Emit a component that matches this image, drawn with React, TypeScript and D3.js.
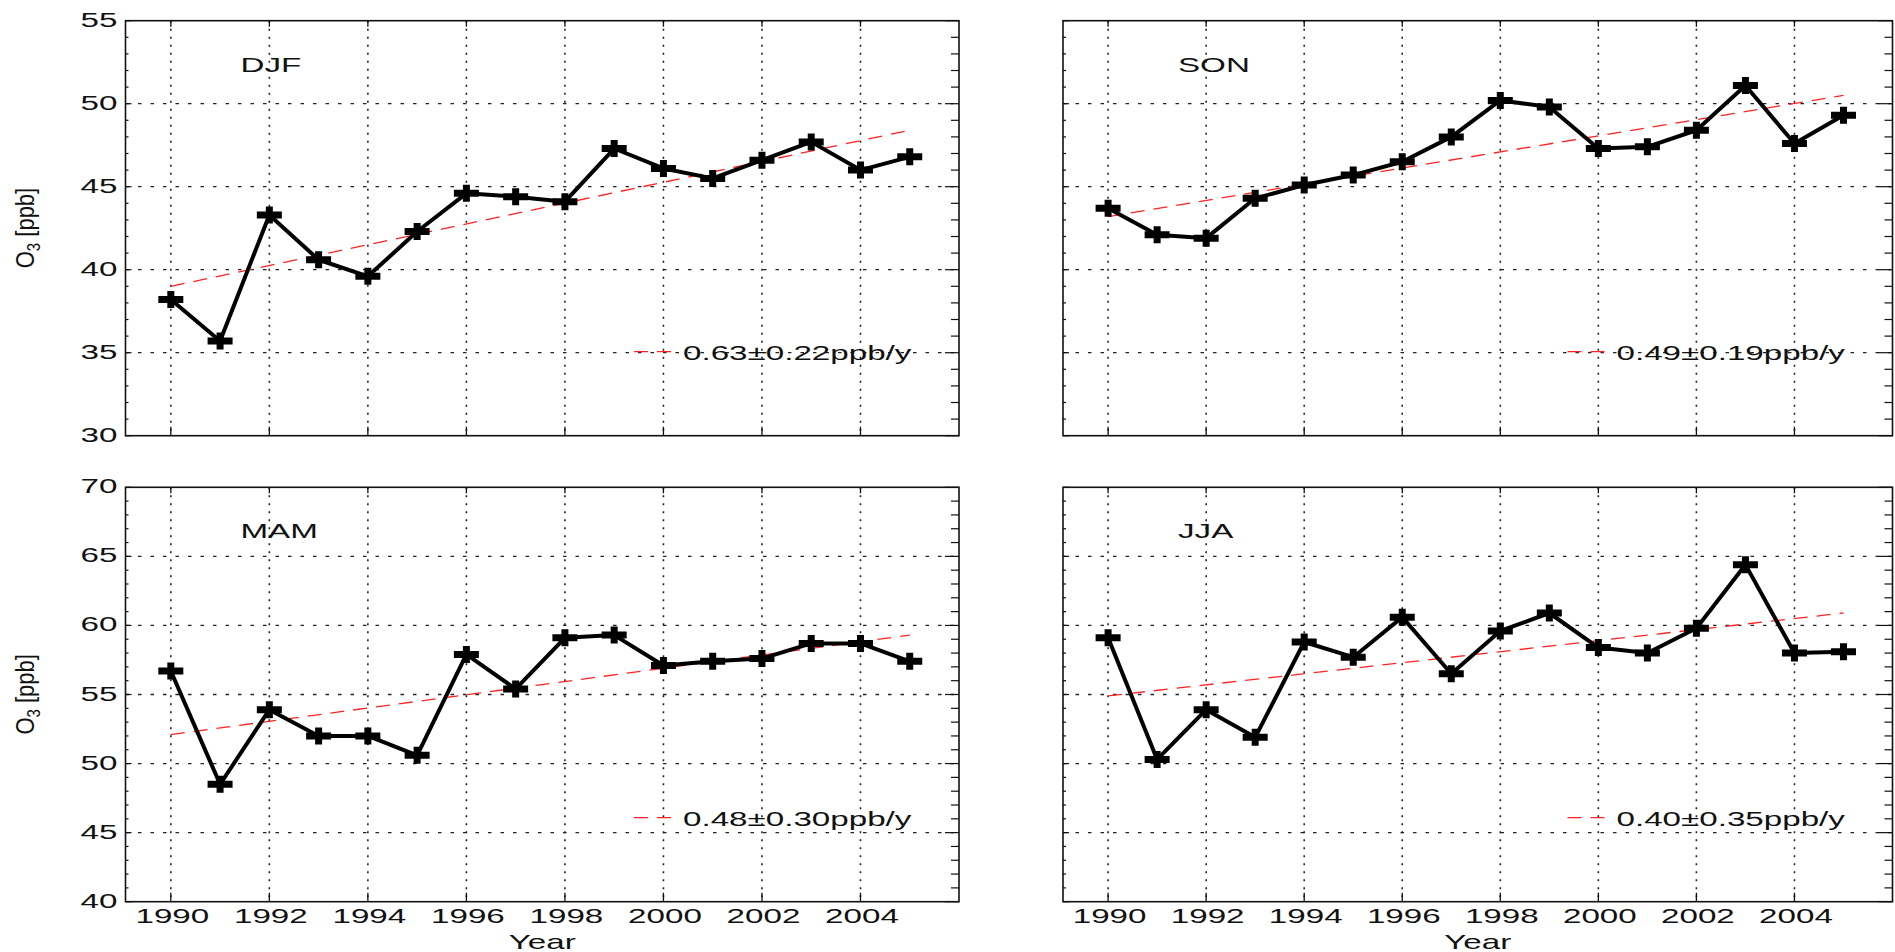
import React from 'react';
import * as d3 from 'd3';

// seasonal mean O3 (ppb)
const years = [1990, 1991, 1992, 1993, 1994, 1995, 1996, 1997, 1998, 1999, 2000, 2001, 2002, 2003, 2004, 2005];
const djf = [38.2, 35.7, 43.3, 40.6, 39.6, 42.3, 44.6, 44.4, 44.1, 47.3, 46.1, 45.5, 46.6, 47.7, 46.0, 46.8];
const son = [43.7, 42.1, 41.9, 44.3, 45.1, 45.7, 46.5, 48.0, 50.2, 49.8, 47.3, 47.4, 48.4, 51.1, 47.6, 49.3];
const mam = [56.7, 48.5, 53.9, 52.0, 52.0, 50.6, 57.9, 55.4, 59.1, 59.3, 57.1, 57.4, 57.6, 58.7, 58.7, 57.4];
const jja = [59.1, 50.3, 53.9, 51.9, 58.8, 57.7, 60.6, 56.5, 59.6, 60.9, 58.4, 58.0, 59.8, 64.4, 58.0, 58.1];

// linear trend at 1990 and 2005
const trendYears = [1990, 2005];
const djfTrend = [39.0, 48.4];
const sonTrend = [43.2, 50.5];
const mamTrend = [52.1, 59.3];
const jjaTrend = [54.9, 60.9];

const seasons = ['DJF', 'SON', 'MAM', 'JJA'];
const trendLabels = ['0.63\u00b10.22ppb/y', '0.49\u00b10.19ppb/y', '0.48\u00b10.30ppb/y', '0.40\u00b10.35ppb/y'];

const xTicks = [1990, 1992, 1994, 1996, 1998, 2000, 2002, 2004];
const yTicksTop = [30, 35, 40, 45, 50, 55];
const yTicksBottom = [40, 45, 50, 55, 60, 65, 70];

const xDomain = [1989.08, 2006];
const FONT = '"Liberation Sans", Arial, Helvetica, sans-serif';
const SX = 1.58; // the figure is stretched horizontally
const INK = '#111';

const panels = [
  { name: seasons[0], values: djf, trend: djfTrend, label: trendLabels[0], yTicks: yTicksTop, left: 125.5, right: 959, top: 20.7, bottom: 435.7, yAxis: true, xAxis: false },
  { name: seasons[1], values: son, trend: sonTrend, label: trendLabels[1], yTicks: yTicksTop, left: 1063, right: 1892.5, top: 20.7, bottom: 435.7, yAxis: false, xAxis: false },
  { name: seasons[2], values: mam, trend: mamTrend, label: trendLabels[2], yTicks: yTicksBottom, left: 125.5, right: 959, top: 487.3, bottom: 901.7, yAxis: true, xAxis: true },
  { name: seasons[3], values: jja, trend: jjaTrend, label: trendLabels[3], yTicks: yTicksBottom, left: 1063, right: 1892.5, top: 487.3, bottom: 901.7, yAxis: false, xAxis: true },
];

const T = ({ x, y, anchor = 'start', size = 21, children }: any) => (
  <text
    transform={`translate(${x},${y}) scale(${SX},1)`}
    textAnchor={anchor}
    fontFamily={FONT}
    fontSize={size}
    fill={INK}
  >
    {children}
  </text>
);

const Panel = ({ p }: any) => {
  const yDomain = [p.yTicks[0], p.yTicks[p.yTicks.length - 1]];
  const x = d3.scaleLinear().domain(xDomain).range([p.left, p.right]);
  const y = d3.scaleLinear().domain(yDomain).range([p.bottom, p.top]);
  const minor = y.ticks(yDomain[1] - yDomain[0]);
  const line = d3
    .line<number>()
    .x((d, i) => x(years[i]))
    .y(d => y(d));
  const trendLine = d3
    .line<number>()
    .x((d, i) => x(trendYears[i]))
    .y(d => y(d));

  const legendY = p.bottom - 84;

  return (
    <g>
      {/* grid */}
      {p.yTicks.slice(1, -1).map((t: number) => (
        <line key={'h' + t} x1={p.left} x2={p.right} y1={y(t)} y2={y(t)} stroke="#222" strokeWidth={1.3} strokeDasharray="3.5,9" />
      ))}
      {xTicks.map(t => (
        <line key={'v' + t} x1={x(t)} x2={x(t)} y1={p.top} y2={p.bottom} stroke="#222" strokeWidth={1.6} strokeDasharray="2,6" />
      ))}

      {/* y ticks */}
      {minor.map(t => {
        const major = t % 5 === 0;
        return (
          <g key={'yt' + t}>
            <line x1={p.left} x2={p.left + (major ? 6 : 3)} y1={y(t)} y2={y(t)} stroke={INK} strokeWidth={1.2} />
            <line x1={p.right} x2={p.right - (major ? 14 : 8)} y1={y(t)} y2={y(t)} stroke={INK} strokeWidth={1.2} />
          </g>
        );
      })}
      {/* x ticks */}
      {xTicks.map(t => (
        <g key={'xt' + t}>
          <line x1={x(t)} x2={x(t)} y1={p.bottom} y2={p.bottom - 9} stroke={INK} strokeWidth={1.3} />
          <line x1={x(t)} x2={x(t)} y1={p.top} y2={p.top + 6} stroke={INK} strokeWidth={1.3} />
        </g>
      ))}

      {/* trend */}
      <path d={trendLine(p.trend) || ''} fill="none" stroke="#f22" strokeWidth={1.3} strokeDasharray="14,9" />

      {/* series */}
      <path d={line(p.values) || ''} fill="none" stroke="#000" strokeWidth={4} strokeLinejoin="round" />
      {p.values.map((v: number, i: number) => (
        <path
          key={'m' + i}
          transform={`translate(${x(years[i])},${y(v)})`}
          d="M-12.5,0H12.5M0,-8.5V8.5"
          stroke="#000"
          strokeWidth={7}
          fill="none"
        />
      ))}

      {/* box */}
      <rect x={p.left} y={p.top} width={p.right - p.left} height={p.bottom - p.top} fill="none" stroke={INK} strokeWidth={1.6} />

      {/* season label */}
      <T x={p.left + 115} y={p.top + 51}>{p.name}</T>

      {/* legend */}
      <line x1={p.right - 325} x2={p.right - 287} y1={legendY} y2={legendY} stroke="#f22" strokeWidth={1.3} strokeDasharray="14,9" />
      <T x={p.right - 276} y={legendY + 8}>{p.label}</T>

      {/* y axis labels */}
      {p.yAxis &&
        p.yTicks.map((t: number) => (
          <T key={'yl' + t} x={p.left - 8} y={y(t) + 6} anchor="end">
            {t}
          </T>
        ))}
      {p.yAxis && (
        <g
          transform={`translate(34,${(p.top + p.bottom) / 2}) scale(1.2,1) rotate(-90)`}
          fontFamily={FONT}
          fill={INK}
        >
          <text x={-40} y={0} fontSize={22}>O</text>
          <text x={-23} y={5} fontSize={15}>3</text>
          <text x={-8.5} y={0} fontSize={22}>[ppb]</text>
        </g>
      )}

      {/* x axis labels */}
      {p.xAxis &&
        xTicks.map(t => (
          <T key={'xl' + t} x={x(t) + 1.5} y={p.bottom + 21} anchor="middle">
            {t}
          </T>
        ))}
      {p.xAxis && (
        <T x={(p.left + p.right) / 2} y={p.bottom + 47} anchor="middle">
          Year
        </T>
      )}
    </g>
  );
};

const App = () => (
  <svg
    width={1895}
    height={952}
    style={{ position: 'absolute', left: 0, top: 0, background: '#fff' }}
  >
    <rect width={1895} height={952} fill="#fff" />
    {panels.map(p => (
      <Panel key={p.name} p={p} />
    ))}
  </svg>
);

export default App;
